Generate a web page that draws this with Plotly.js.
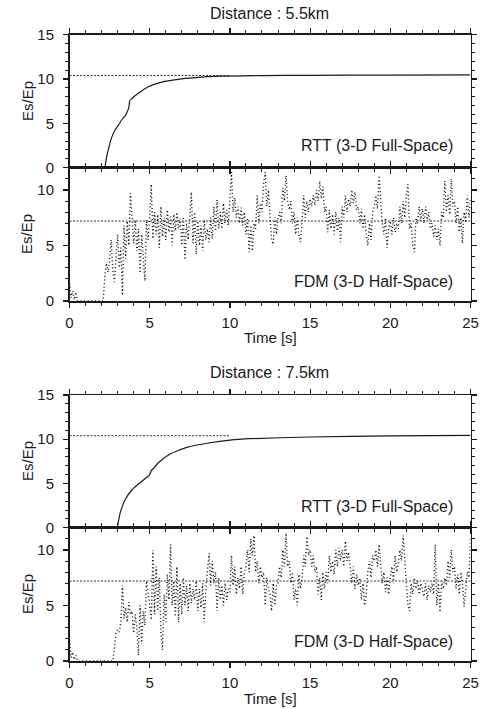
<!DOCTYPE html>
<html>
<head>
<meta charset="utf-8">
<script src="https://cdn.plot.ly/plotly-3.0.1.min.js"></script>
<style>
html,body{margin:0;padding:0;background:#fff;}
#chart{width:487px;height:709px;}
</style>
</head>
<body>
<div id="chart"></div>
<script>
// ---------- data ----------
const panelTitles = ["Distance : 5.5km", "Distance : 7.5km"];
const rttLabel = "RTT (3-D Full-Space)";
const fdmLabel = "FDM (3-D Half-Space)";
const xTickVals = [0, 5, 10, 15, 20, 25];

// RTT curves (Es/Ep vs time)
const rtt55_t = [2.21,2.32,2.52,2.63,2.84,3.05,3.25,3.46,3.56,3.71,3.75,3.87,4.29,4.91,5.75,6.78,7.82,9.49,12,15,20,25];
const rtt55_v = [0,1.24,2.75,3.42,4.25,4.81,5.38,5.83,6.13,6.88,7.56,7.78,8.39,9.13,9.66,9.97,10.15,10.32,10.38,10.42,10.44,10.46];
const rtt75_t = [2.98,3.15,3.46,3.88,4.40,4.91,4.98,5.12,5.19,5.54,6.27,7.31,8.76,10.0,11.25,15,20,25];
const rtt75_v = [0,1.62,3.13,4.26,5.08,5.84,5.95,6.52,6.6,7.34,8.33,9.08,9.6,9.9,10.06,10.25,10.38,10.44];

// reference levels (dashed)
const rttLevel = [10.4, 10.4];
const rttLevel_t = [0, 10];
const fdmLevel55 = [7.2, 7.2];
const fdmLevel75 = [7.2, 7.2];
const fdmLevel_t = [0, 25];

// FDM samples, every 0.1 s from 0 to 25 s
const fdm_t0 = 0, fdm_dt = 0.1;
const fdm55_v = [
 1.6,0.3,0.9,0.1,0.8,0,0,0,0,0,
 0,0,0,0,0,0,0,0,0,0,
 0,0,2.2,3.4,2.6,3.6,5.5,2.8,1.7,4.5,
 6.0,3.0,4.8,0.5,6.8,3.8,7.2,5.0,9.7,7.5,
 5.2,7.3,4.5,6.5,2.5,6.0,3.5,1.8,7.3,5.5,
 7.5,10.5,5.6,8.0,6.0,7.8,4.8,8.5,5.8,7.5,
 5.5,8.2,6.2,7.6,5.0,7.8,6.3,8.0,6.5,7.4,
 5.0,7.6,3.7,7.0,5.5,8.3,9.8,5.2,8.0,4.2,
 7.2,5.0,6.8,4.5,7.3,5.5,6.5,5.3,7.5,5.6,
 8.5,6.3,9.1,6.5,8.0,6.5,8.8,7.0,8.2,6.8,
 9.5,11.6,8.0,9.3,7.5,8.5,7.0,8.4,6.8,8.0,
 6.0,7.5,4.4,6.8,4.5,7.0,6.5,9.5,7.0,8.8,
 8.0,10.5,11.6,8.5,10.0,7.2,5.5,5.1,7.5,6.0,
 7.5,8.0,7.0,10.2,9.0,11.3,9.0,8.2,9.0,7.0,
 8.0,6.0,7.5,5.8,5.3,7.2,9.5,7.5,9.0,8.0,
 9.2,8.5,9.5,8.6,10.0,9.0,10.8,9.2,10.3,8.0,
 8.5,6.2,8.2,6.5,7.8,6.0,8.0,6.3,7.5,5.3,
 8.5,7.5,9.5,8.0,9.2,8.5,10.0,8.8,9.8,8.2,
 8.5,7.0,8.3,6.5,7.8,6.0,5.0,7.0,5.5,8.0,
 8.5,9.5,8.3,11.3,8.8,7.0,6.0,7.5,4.8,6.5,
 7.2,6.0,7.5,6.2,7.0,6.5,8.5,7.0,9.0,7.5,
 9.5,10.5,6.5,7.0,5.0,4.4,7.5,7.0,8.5,7.2,
 8.3,7.0,8.5,7.3,8.0,6.5,7.0,5.8,6.8,5.5,
 6.5,5.0,8.0,7.5,10.8,8.0,9.5,7.8,11.0,8.5,
 9.0,7.0,8.5,6.2,7.5,5.2,8.0,7.2,9.5,7.5,
 9.2
];
const fdm75_v = [
 1.9,0.3,0.8,0.1,0.5,0,0,0,0,0,
 0,0,0,0,0,0,0,0,0,0,
 0,0,0,0,0,0,0,0,1.2,2.5,
 2.8,2.6,3.5,6.8,3.8,4.8,3.5,5.3,4.2,4.5,
 2.5,4.2,3.0,0.5,5.0,1.5,4.5,3.2,7.2,6.2,
 5.0,3.7,10.0,4.2,8.5,4.5,7.5,2.5,1.0,6.0,
 3.5,7.8,5.5,10.5,5.0,7.2,4.0,8.5,3.5,7.0,
 4.2,7.5,5.0,6.8,4.5,7.0,5.2,6.5,5.5,7.2,
 4.5,6.5,4.8,7.0,3.5,6.5,8.5,9.7,6.8,9.0,
 7.0,8.0,4.5,7.5,5.5,6.8,5.0,7.0,5.5,6.5,
 6.2,9.5,6.8,8.5,6.0,7.5,6.5,8.5,6.0,8.0,
 8.5,10.0,8.0,11.0,9.5,11.3,8.0,9.0,7.0,8.5,
 7.5,8.0,5.0,7.5,6.5,6.0,4.5,7.0,5.0,6.8,
 7.0,8.5,7.5,10.0,8.5,11.5,8.5,9.0,7.0,8.0,
 5.5,6.5,5.0,7.8,6.5,7.5,9.5,8.5,11.2,9.5,
 10.0,8.5,9.5,8.0,8.5,6.0,7.5,5.5,8.0,6.5,
 8.0,7.0,9.5,8.0,9.0,7.8,10.0,8.5,10.2,9.0,
 10.0,8.5,10.8,9.0,9.8,8.0,7.0,8.5,6.5,7.8,
 6.8,7.5,5.5,7.0,5.0,6.0,8.0,9.0,7.5,9.5,
 9.0,10.0,8.5,10.5,9.0,7.0,8.0,6.2,7.5,6.0,
 7.5,8.5,7.0,9.5,8.0,8.8,10.0,9.0,11.3,9.5,
 7.0,5.0,4.5,7.0,6.0,7.5,6.5,7.2,6.0,7.0,
 6.5,5.8,7.0,5.5,6.8,6.2,7.0,6.0,10.5,5.0,
 7.0,4.4,7.2,6.5,7.5,6.8,9.0,7.5,10.0,8.0,
 8.5,6.5,7.8,6.0,8.0,7.0,4.9,6.5,8.0,7.5,
 11.0
];

// ---------- build ----------
const timeGrid = (vals) => vals.map((_, i) => +(fdm_t0 + i * fdm_dt).toFixed(2));
const INK = '#1a1a1a';
const FONT = '"Liberation Sans", Arial, sans-serif';

const traces = [
  {x: rtt55_t, y: rtt55_v, xaxis: 'x', yaxis: 'y', mode: 'lines',
   line: {color: INK, width: 1.2, shape: 'spline', smoothing: 0.5}},
  {x: rttLevel_t, y: rttLevel, xaxis: 'x', yaxis: 'y', mode: 'lines',
   line: {color: INK, width: 0.9, dash: '2px,1.5px'}},
  {x: timeGrid(fdm55_v), y: fdm55_v, xaxis: 'x2', yaxis: 'y2', mode: 'lines',
   line: {color: '#111', width: 1.4, dash: '1px,2.6px'}},
  {x: fdmLevel_t, y: fdmLevel55, xaxis: 'x2', yaxis: 'y2', mode: 'lines',
   line: {color: INK, width: 0.9, dash: '2px,1.5px'}},
  {x: rtt75_t, y: rtt75_v, xaxis: 'x3', yaxis: 'y3', mode: 'lines',
   line: {color: INK, width: 1.2, shape: 'spline', smoothing: 0.5}},
  {x: rttLevel_t, y: rttLevel, xaxis: 'x3', yaxis: 'y3', mode: 'lines',
   line: {color: INK, width: 0.9, dash: '2px,1.5px'}},
  {x: timeGrid(fdm75_v), y: fdm75_v, xaxis: 'x4', yaxis: 'y4', mode: 'lines',
   line: {color: '#111', width: 1.4, dash: '1px,2.6px'}},
  {x: fdmLevel_t, y: fdmLevel75, xaxis: 'x4', yaxis: 'y4', mode: 'lines',
   line: {color: INK, width: 0.9, dash: '2px,1.5px'}}
];

const W = 487, H = 709;
const xDom = [69.5 / W, 470.5 / W];
const yd = (top, bot) => [1 - bot / H, 1 - top / H];

function xa(anchor, labels) {
  return {domain: xDom, anchor: anchor, range: [0, 25], showline: true, linecolor: INK, linewidth: 1.5,
    mirror: 'allticks', ticks: 'outside', ticklen: 5, tickwidth: 1.2, tickcolor: INK,
    tickvals: xTickVals, showticklabels: labels, ticklabelstandoff: 2,
    minor: {dtick: 1, ticks: 'outside', ticklen: 3, tickwidth: 1, tickcolor: INK},
    showgrid: false, zeroline: false, fixedrange: true,
    tickfont: {family: FONT, size: 15, color: INK}};
}
function ya(anchor, dom, top) {
  return {domain: dom, anchor: anchor, range: [0, top], showline: true, linecolor: INK, linewidth: 1.5,
    mirror: 'allticks', ticks: 'outside', ticklen: 5, tickwidth: 1.2, tickcolor: INK,
    dtick: 5, tick0: 0, ticklabelstandoff: 6,
    minor: {dtick: 1, ticks: 'outside', ticklen: 3, tickwidth: 1, tickcolor: INK},
    showgrid: false, zeroline: false, fixedrange: true,
    tickfont: {family: FONT, size: 15, color: INK}};
}

const ann = (text, x, y, opts) => Object.assign({text: text, x: x, y: y, xref: 'paper', yref: 'paper',
  showarrow: false, xanchor: 'center', yanchor: 'middle', font: {family: FONT, size: 16, color: INK}}, opts || {});

const layout = {
  width: W, height: H, margin: {l: 0, r: 0, t: 0, b: 0},
  paper_bgcolor: '#fff', plot_bgcolor: '#fff', showlegend: false,
  xaxis: xa('y', false), yaxis: ya('x', yd(34.7, 167.7), 15),
  xaxis2: xa('y2', true), yaxis2: ya('x2', yd(167.7, 301), 12),
  xaxis3: xa('y3', false), yaxis3: ya('x3', yd(395, 527.7), 15),
  xaxis4: xa('y4', true), yaxis4: ya('x4', yd(527.7, 661), 12),
  annotations: [
    ann(panelTitles[0], 269 / W, 1 - 14 / H),
    ann(panelTitles[1], 269 / W, 1 - 373 / H),
    ann('Time [s]', 270 / W, 1 - 338 / H, {font: {family: FONT, size: 15, color: INK}}),
    ann('Time [s]', 270 / W, 1 - 698 / H, {font: {family: FONT, size: 15, color: INK}}),
    ann('Es/Ep', 27 / W, 1 - 101 / H, {textangle: -90, font: {family: FONT, size: 15, color: INK}}),
    ann('Es/Ep', 27 / W, 1 - 234 / H, {textangle: -90, font: {family: FONT, size: 15, color: INK}}),
    ann('Es/Ep', 27 / W, 1 - 461 / H, {textangle: -90, font: {family: FONT, size: 15, color: INK}}),
    ann('Es/Ep', 27 / W, 1 - 594 / H, {textangle: -90, font: {family: FONT, size: 15, color: INK}}),
    ann(rttLabel, 24.03, 2.45, {xref: 'x', yref: 'y', xanchor: 'right', font: {family: FONT, size: 16, color: INK}}),
    ann(fdmLabel, 24.03, 1.74, {xref: 'x2', yref: 'y2', xanchor: 'right', font: {family: FONT, size: 16, color: INK}}),
    ann(rttLabel, 24.03, 2.45, {xref: 'x3', yref: 'y3', xanchor: 'right', font: {family: FONT, size: 16, color: INK}}),
    ann(fdmLabel, 24.03, 1.74, {xref: 'x4', yref: 'y4', xanchor: 'right', font: {family: FONT, size: 16, color: INK}})
  ]
};

Plotly.newPlot('chart', traces, layout, {staticPlot: true, displayModeBar: false});
</script>
</body>
</html>
